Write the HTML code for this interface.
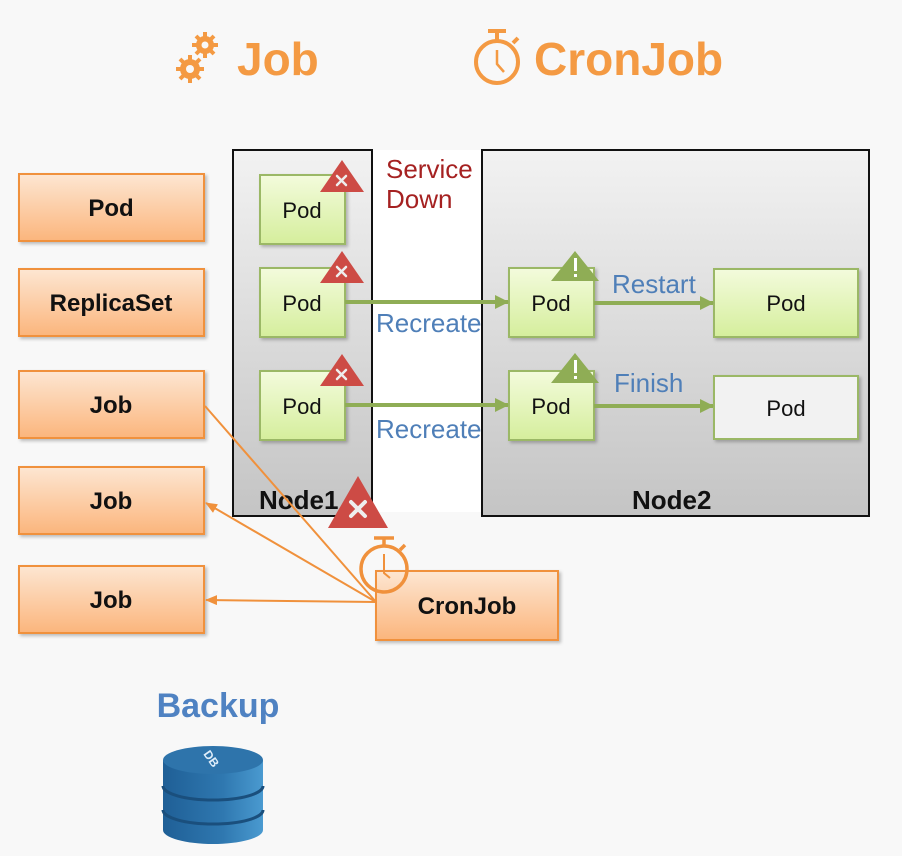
<!DOCTYPE html>
<html><head><meta charset="utf-8"><style>
html,body{margin:0;padding:0;background:#f8f8f8;}
svg{display:block;}
text{font-family:"Liberation Sans","DejaVu Sans",sans-serif;}
</style></head><body>
<svg width="902" height="856" viewBox="0 0 902 856" xmlns="http://www.w3.org/2000/svg">
<defs>
<linearGradient id="or" x1="0" y1="0" x2="0" y2="1"><stop offset="0" stop-color="#fde6d2"/><stop offset="1" stop-color="#fbb57c"/></linearGradient>
<linearGradient id="gr" x1="0" y1="0" x2="0" y2="1"><stop offset="0" stop-color="#f3fbdc"/><stop offset="1" stop-color="#d5ee9c"/></linearGradient>
<linearGradient id="nd" x1="0" y1="0" x2="0" y2="1"><stop offset="0" stop-color="#f2f2f2"/><stop offset="1" stop-color="#c4c4c4"/></linearGradient>
<linearGradient id="db" x1="0" y1="0" x2="1" y2="0"><stop offset="0" stop-color="#1f5f96"/><stop offset="0.6" stop-color="#2f78b0"/><stop offset="1" stop-color="#4a9ad0"/></linearGradient>
<marker id="ga" markerWidth="14" markerHeight="14" refX="13" refY="7" orient="auto" markerUnits="userSpaceOnUse"><path d="M0,0 L14,7 L0,14z" fill="#8fad55"/></marker>
<marker id="oa" markerWidth="12" markerHeight="10" refX="11" refY="5" orient="auto" markerUnits="userSpaceOnUse"><path d="M0,0 L12,5 L0,10z" fill="#f0913c"/></marker>
<filter id="sh" x="-10%" y="-10%" width="130%" height="130%"><feDropShadow dx="2" dy="2" stdDeviation="1.5" flood-color="#000" flood-opacity="0.25"/></filter>
</defs>

<!-- header -->
<g fill="#f49a43">
<circle cx="205" cy="45" r="9"/><circle cx="190" cy="69" r="10"/>
<g stroke="#f49a43" stroke-width="4">
<path d="M205,32V58M192,45H218M196,36L214,54M214,36L196,54"/>
<path d="M190,55V83M176,69H204M180,59L200,79M200,59L180,79"/>
</g>
<circle cx="205" cy="45" r="3.5" fill="#f8f8f8"/><circle cx="190" cy="69" r="4" fill="#f8f8f8"/>
</g>
<text x="237" y="75" font-size="46" font-weight="bold" fill="#f49a43">Job</text>
<g stroke="#f49a43" fill="none">
<circle cx="497" cy="62" r="21" stroke-width="4"/>
<path d="M488,31H506M497,31V41M513,43L518,38" stroke-width="4"/>
<path d="M497,50V64L504,72" stroke-width="2.5"/>
</g>
<text x="534" y="75" font-size="46" font-weight="bold" fill="#f49a43">CronJob</text>

<!-- white gap -->
<rect x="372" y="150" width="110" height="362" fill="#ffffff"/>
<!-- nodes -->
<rect x="233" y="150" width="139" height="366" fill="url(#nd)" stroke="#111" stroke-width="2"/>
<rect x="482" y="150" width="387" height="366" fill="url(#nd)" stroke="#111" stroke-width="2"/>
<text x="259" y="509" font-size="26" font-weight="bold" fill="#111">Node1</text>
<text x="632" y="509" font-size="26" font-weight="bold" fill="#111">Node2</text>

<text x="386" y="178" font-size="26" fill="#a52121">Service</text>
<text x="386" y="208" font-size="26" fill="#a52121">Down</text>

<!-- left orange boxes -->
<g filter="url(#sh)" fill="url(#or)" stroke="#f0913c" stroke-width="2">
<rect x="19" y="174" width="185" height="67"/>
<rect x="19" y="269" width="185" height="67"/>
<rect x="19" y="371" width="185" height="67"/>
<rect x="19" y="467" width="185" height="67"/>
<rect x="19" y="566" width="185" height="67"/>
<rect x="376" y="571" width="182" height="69"/>
</g>
<g font-size="24" font-weight="bold" fill="#111" text-anchor="middle">
<text x="111" y="216">Pod</text>
<text x="111" y="311">ReplicaSet</text>
<text x="111" y="413">Job</text>
<text x="111" y="509">Job</text>
<text x="111" y="608">Job</text>
<text x="467" y="614">CronJob</text>
</g>

<!-- pods -->
<g filter="url(#sh)" fill="url(#gr)" stroke="#9bb866" stroke-width="2">
<rect x="260" y="175" width="85" height="69"/>
<rect x="260" y="268" width="85" height="69"/>
<rect x="260" y="371" width="85" height="69"/>
<rect x="509" y="268" width="85" height="69"/>
<rect x="509" y="371" width="85" height="69"/>
<rect x="714" y="269" width="144" height="68"/>
<rect x="714" y="376" width="144" height="63" fill="#f2f2f2"/>
</g>
<g font-size="22" fill="#111" text-anchor="middle">
<text x="302" y="218">Pod</text><text x="302" y="311">Pod</text><text x="302" y="414">Pod</text>
<text x="551" y="311">Pod</text><text x="551" y="414">Pod</text>
<text x="786" y="311">Pod</text><text x="786" y="416">Pod</text>
</g>

<!-- green arrows -->
<g stroke="#8fad55" stroke-width="4" marker-end="url(#ga)">
<line x1="345" y1="302" x2="508" y2="302"/>
<line x1="345" y1="405" x2="508" y2="405"/>
<line x1="594" y1="303" x2="713" y2="303"/>
<line x1="594" y1="406" x2="713" y2="406"/>
</g>
<g font-size="26" fill="#4f7fb8">
<text x="376" y="332">Recreate</text>
<text x="376" y="438">Recreate</text>
<text x="612" y="293">Restart</text>
<text x="614" y="392">Finish</text>
</g>

<!-- red warnings -->
<g fill="#cd4b45">
<path d="M342,160L364,192H320z"/>
<path d="M342,251L364,283H320z"/>
<path d="M342,354L364,386H320z"/>
<path d="M358,476L388,528H328z"/>
</g>
<g stroke="#eee" stroke-width="2.5" stroke-linecap="round">
<path d="M337,176l9,9M346,176l-9,9"/>
<path d="M337,267l9,9M346,267l-9,9"/>
<path d="M337,370l9,9M346,370l-9,9"/>
<path d="M351,502l14,14M365,502l-14,14" stroke-width="4"/>
</g>
<!-- green warnings -->
<g fill="#8fad55">
<path d="M575,251L599,281H551z"/>
<path d="M575,353L599,383H551z"/>
</g>
<g fill="#fff"><rect x="574" y="258" width="3" height="13"/><rect x="574" y="274" width="3" height="3"/>
<rect x="574" y="360" width="3" height="13"/><rect x="574" y="376" width="3" height="3"/></g>

<!-- orange connectors -->
<g stroke="#f0913c" stroke-width="2" fill="none">
<line x1="376" y1="602" x2="205" y2="406"/>
<line x1="376" y1="602" x2="206" y2="503" marker-end="url(#oa)"/>
<line x1="376" y1="602" x2="206" y2="600" marker-end="url(#oa)"/>
</g>
<!-- cron icon -->
<g stroke="#f0913c" fill="none">
<circle cx="384" cy="569" r="23" stroke-width="3.5"/>
<path d="M374,538H394M384,538V546M400,550L405,545" stroke-width="3.5"/>
<path d="M384,554V573L390,578" stroke-width="2"/>
</g>

<!-- backup -->
<text x="218" y="717" font-size="34" font-weight="bold" fill="#4f82c2" text-anchor="middle">Backup</text>
<g>
<path d="M163,760V830A50,14 0 0 0 263,830V760z" fill="url(#db)"/>
<ellipse cx="213" cy="760" rx="50" ry="14" fill="#2e74ab"/>
<path d="M163,786A50,14 0 0 0 263,786M163,810A50,14 0 0 0 263,810" stroke="#1a4f7d" stroke-width="3" fill="none"/>
<text x="0" y="0" font-size="12" font-weight="bold" fill="#dfeefa" transform="translate(203,754) rotate(55)">DB</text>
</g>
</svg>
</body></html>
